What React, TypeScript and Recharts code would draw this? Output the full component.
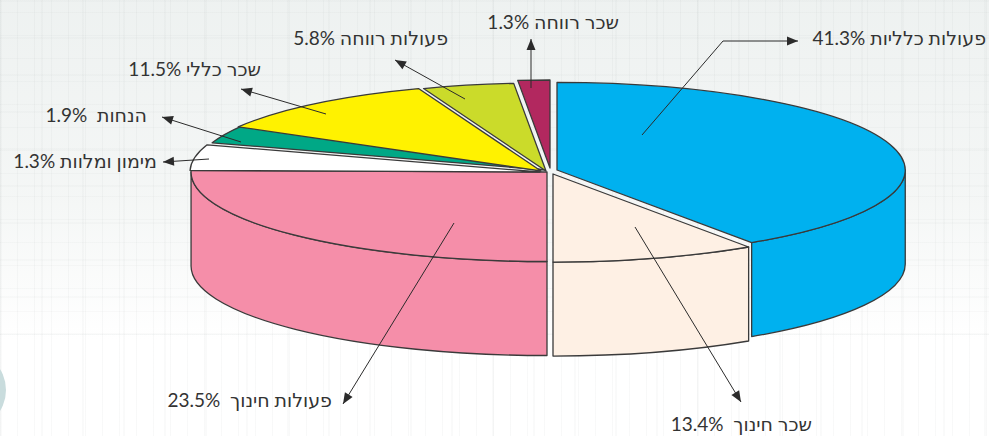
import { PieChart, Pie } from 'recharts';

const sliceNames = ['פעולות כלליות', 'שכר חינוך', 'פעולות חינוך', 'מימון ומלוות', 'הנחות', 'שכר כללי', 'פעולות רווחה', 'שכר רווחה'];
// the percentages printed in the picture
const printedShares = [41.3, 13.4, 23.5, 1.3, 1.9, 11.5, 5.8, 1.3];
// the picture's slices are not drawn to scale, so this is what each one actually measures, in percent of the circle
const drawnShares = [40.56, 9.44, 25.28, 4.72, 3.36, 10.95, 4.22, 1.47];
const sliceColors = ['#00b1ef', '#fef0e4', '#f58ea9', '#ffffff', '#00a886', '#fff200', '#cbdb2a', '#b2285f'];

const WIDTH = 989;
const HEIGHT = 436;
const CX = 548;
const CY = 170;
const RADIUS = 350;
const SQUASH = 0.2515; // tilt of the disc
const DEPTH = 94;
const INK = '#3a3a3a';

// how far each slice is pulled out of the disc
const explode = [
  { dx: 9, dy: 0, scale: 0.995 },
  { dx: 5, dy: 4, scale: 1 },
  { dx: -1, dy: 2, scale: 1.017 },
  { dx: -8, dy: 2, scale: 1 },
  { dx: -3, dy: 0, scale: 1 },
  { dx: -7, dy: 1, scale: 1 },
  { dx: -2, dy: 1, scale: 1 },
  { dx: 2, dy: -2, scale: 1 },
];

// label text (right edge, baseline) and leader line, head last
const callouts = [
  { right: 986, base: 45, gap: ' ', line: [[642, 135], [723, 41], [798, 41]] },
  { right: 812, base: 431, gap: '\u00a0\u00a0', line: [[635, 227], [741, 402]] },
  { right: 332, base: 407, gap: '\u00a0\u00a0', line: [[454, 223], [343, 404]] },
  { right: 157, base: 168, gap: ' ', line: [[209, 159], [163, 162]] },
  { right: 147, base: 122, gap: '\u00a0\u00a0', line: [[241, 142], [162, 117]] },
  { right: 261, base: 76, gap: ' ', line: [[326, 114], [241, 89]] },
  { right: 448, base: 45, gap: ' ', line: [[465, 99], [395, 60]] },
  { right: 619, base: 29, gap: ' ', line: [[531, 88], [531, 39]] },
];

const pieData = sliceNames.map((name, i) => ({
  name,
  drawn: drawnShares[i],
  printed: printedShares[i],
  fill: sliceColors[i],
}));

const toXY = (clock: number, ox: number, oy: number, rx: number, ry: number) => {
  const a = (clock * Math.PI) / 180;
  return [ox + rx * Math.sin(a), oy - ry * Math.cos(a)];
};

// Draws the sector as a tilted slab: flat top plus the visible part of the rim
function SliceShape(props: any) {
  const { cx, cy, outerRadius, startAngle, endAngle, fill, name } = props;
  const i = sliceNames.indexOf(name);
  const { dx, dy, scale } = explode[i];
  const rx = outerRadius * scale;
  const ry = outerRadius * SQUASH * scale;
  const ox = cx + dx;
  const oy = cy + dy;
  const from = 90 - Math.max(startAngle, endAngle);
  const to = 90 - Math.min(startAngle, endAngle);
  const a = toXY(from, ox, oy, rx, ry);
  const b = toXY(to, ox, oy, rx, ry);
  const large = to - from > 180 ? 1 : 0;
  const top = `M${ox},${oy}L${a[0]},${a[1]}A${rx},${ry} 0 ${large} 1 ${b[0]},${b[1]}Z`;

  const wallFrom = Math.max(from, 90);
  const wallTo = Math.min(to, 270);
  let wall = '';
  if (wallTo > wallFrom) {
    const p = toXY(wallFrom, ox, oy, rx, ry);
    const q = toXY(wallTo, ox, oy, rx, ry);
    wall = `M${p[0]},${p[1]}A${rx},${ry} 0 0 1 ${q[0]},${q[1]}L${q[0]},${q[1] + DEPTH}A${rx},${ry} 0 0 0 ${p[0]},${p[1] + DEPTH}Z`;
  }
  return (
    <g>
      {wall && <path d={wall} fill={fill} stroke={INK} strokeWidth={1.3} strokeLinejoin="round" />}
      <path d={top} fill={fill} stroke={INK} strokeWidth={1.3} strokeLinejoin="round" />
    </g>
  );
}

function Callout(props: any) {
  const { index } = props;
  const { right, base, gap, line } = callouts[index];
  const [tipX, tipY] = line[line.length - 1];
  const [prevX, prevY] = line[line.length - 2];
  const ang = Math.atan2(tipY - prevY, tipX - prevX);
  const len = 11;
  const half = 4.5;
  const bx = tipX - len * Math.cos(ang);
  const by = tipY - len * Math.sin(ang);
  const head = [
    [tipX, tipY],
    [bx - half * Math.sin(ang), by + half * Math.cos(ang)],
    [bx + half * Math.sin(ang), by - half * Math.cos(ang)],
  ];
  return (
    <g>
      <polyline points={line.map((p) => p.join(',')).join(' ')} fill="none" stroke="#2b2b2b" strokeWidth={1} />
      <polygon points={head.map((p) => p.join(',')).join(' ')} fill="#2b2b2b" />
      <text
        x={right}
        y={base}
        fill="#333"
        fontSize={19}
        fontFamily="Lato, 'DejaVu Sans', sans-serif"
        textAnchor="start"
        style={{ direction: 'rtl' }}
      >
        {`${sliceNames[index]}${gap}${printedShares[index]}%`}
      </text>
    </g>
  );
}

export default function App() {
  return (
    <div
      style={{
        position: 'fixed',
        left: 0,
        top: 0,
        width: WIDTH,
        height: HEIGHT,
        overflow: 'hidden',
        backgroundColor: '#fff',
        backgroundImage: [
          'repeating-linear-gradient(90deg, rgba(120,130,130,0.05) 0 1px, transparent 1px 17px)',
          'repeating-linear-gradient(90deg, rgba(120,130,130,0.04) 0 2px, transparent 2px 41px)',
          'linear-gradient(180deg, rgba(236,240,239,0.9) 0, rgba(240,243,242,0.7) 200px, rgba(255,255,255,0) 340px)',
        ].join(','),
      }}
    >
      <div
        style={{
          position: 'absolute',
          left: 0,
          top: 0,
          width: WIDTH,
          height: 335,
          backgroundImage:
            'repeating-linear-gradient(0deg, rgba(120,130,130,0.04) 0 1px, transparent 1px 23px), repeating-linear-gradient(0deg, rgba(120,130,130,0.03) 0 2px, transparent 2px 37px)',
        }}
      />
      <div
        style={{
          position: 'absolute',
          left: -74,
          top: 350,
          width: 80,
          height: 80,
          borderRadius: '50%',
          background: '#c9dcdd',
        }}
      />
      <div style={{ position: 'absolute', left: 0, top: 0 }}>
        <PieChart width={WIDTH} height={HEIGHT} margin={{ top: 0, right: 0, bottom: 0, left: 0 }}>
          <Pie
            data={pieData}
            dataKey="drawn"
            cx={CX}
            cy={CY}
            outerRadius={RADIUS}
            startAngle={90}
            endAngle={-270}
            isAnimationActive={false}
            shape={SliceShape}
            activeShape={SliceShape}
            inactiveShape={SliceShape}
            label={Callout}
            labelLine={false}
            rootTabIndex={-1}
          />
        </PieChart>
      </div>
    </div>
  );
}
